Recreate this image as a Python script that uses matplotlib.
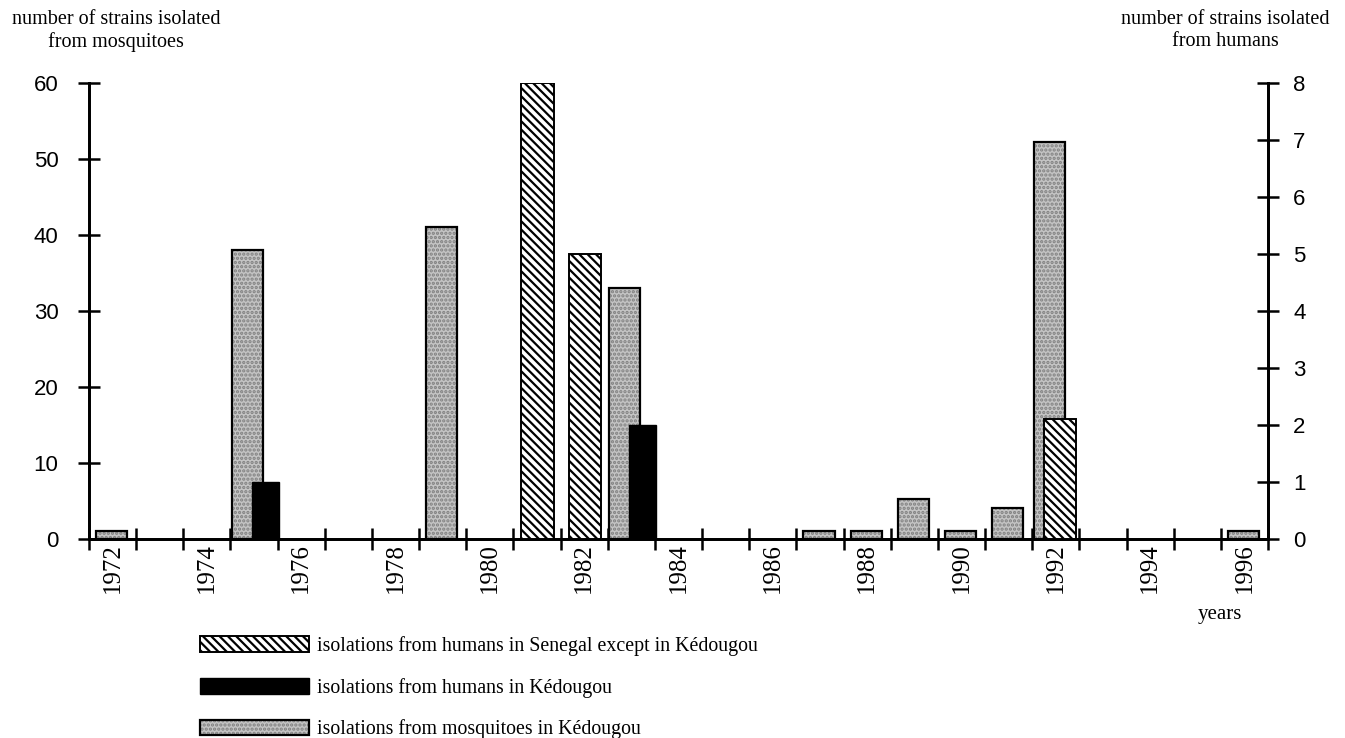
import matplotlib
matplotlib.use("Agg")
import matplotlib.pyplot as plt
from matplotlib.ticker import FixedLocator, NullFormatter

# ---- data ----
year_first = 1972
year_last = 1996
mosq_years = [1972, 1975, 1979, 1983, 1987, 1988, 1989, 1990, 1991, 1992, 1996]
mosq_values = [1, 38, 41, 33, 1, 1, 5.3, 1, 4.1, 52.2, 1]
kedo_years = [1975, 1983]
kedo_values = [1, 2]
sen_years = [1981, 1982, 1992]
sen_values = [8, 5, 2.1]
left_ticks = [0, 10, 20, 30, 40, 50, 60]
right_ticks = [0, 1, 2, 3, 4, 5, 6, 7, 8]
label_years = [1972, 1974, 1976, 1978, 1980, 1982, 1984, 1986, 1988, 1990, 1992, 1994, 1996]

label_sen = "isolations from humans in Senegal except in Kédougou"
label_kedo = "isolations from humans in Kédougou"
label_mosq = "isolations from mosquitoes in Kédougou"

SERIF = ["Liberation Serif", "DejaVu Serif"]
SANS = ["Liberation Sans", "DejaVu Sans"]

plt.rcParams["hatch.linewidth"] = 1.6
plt.rcParams["font.family"] = SERIF

fig = plt.figure(figsize=(13.45, 7.38), dpi=100)
L, R, B, T = 89 / 1345, 1268 / 1345, 1 - 539 / 738, 1 - 83 / 738
ax = fig.add_axes([L, B, R - L, T - B])
ax2 = ax.twinx()

human_years = set(kedo_years) | set(sen_years)
mosq_set = set(mosq_years)

# mosquitoes (left axis)
m_off = [0.03 if y in human_years else 0.15 for y in mosq_years]
m_x = [y + o for y, o in zip(mosq_years, m_off)]
bars_mf = ax.bar(m_x, mosq_values, width=0.66, align="edge", color="#c4c4c4",
                 edgecolor="#808080", hatch="....", linewidth=0, zorder=2)
bars_m = ax.bar(m_x, mosq_values, width=0.66, align="edge", facecolor="none",
                edgecolor="black", linewidth=1.6, zorder=3)

# humans (right axis)
k_x = [y + 0.45 for y in kedo_years]
bars_k = ax2.bar(k_x, kedo_values, width=0.58, align="edge", color="black",
                 edgecolor="black", linewidth=1.0, zorder=3)
s_x = [y + (0.25 if y in mosq_set else 0.17) for y in sen_years]
bars_s = ax2.bar(s_x, sen_values, width=0.68, align="edge", facecolor="white",
                 edgecolor="black", hatch="\\\\\\\\", linewidth=1.4, zorder=3)

# axes styling
for a in (ax, ax2):
    a.set_xlim(year_first, year_last + 1)
    a.spines["top"].set_visible(False)
    for s in ("left", "right", "bottom"):
        a.spines[s].set_linewidth(2.0)
ax.set_ylim(0, 60)
ax2.set_ylim(0, 8)
ax.set_yticks(left_ticks)
ax2.set_yticks(right_ticks)
ax.tick_params(axis="y", direction="inout", length=16, width=1.8, pad=14,
               labelsize=16, labelfontfamily=SANS)
ax2.tick_params(axis="y", direction="inout", length=16, width=1.8, pad=10,
                labelsize=16, labelfontfamily=SANS)

ax.xaxis.set_major_locator(FixedLocator(list(range(year_first, year_last + 2))))
ax.xaxis.set_major_formatter(NullFormatter())
ax.xaxis.set_minor_locator(FixedLocator([y + 0.5 for y in label_years]))
ax.set_xticklabels([str(y) for y in label_years], minor=True, rotation=90,
                   fontsize=18, fontfamily=SERIF)
ax.tick_params(axis="x", which="major", direction="inout", length=16, width=1.8)
ax.tick_params(axis="x", which="minor", length=0, pad=3)
ax2.tick_params(axis="x", which="both", bottom=False, labelbottom=False)

# titles
fig.text(116 / 1345, 1 - 10 / 738, "number of strains isolated\nfrom mosquitoes",
         ha="center", va="top", fontsize=14.5, linespacing=1.2)
fig.text(1225 / 1345, 1 - 10 / 738, "number of strains isolated\nfrom humans",
         ha="center", va="top", fontsize=14.5, linespacing=1.2)
fig.text(1220 / 1345, 1 - 614 / 738, "years", ha="center", va="center", fontsize=15)

# legend
fig.legend([bars_s, bars_k, (bars_mf, bars_m)], [label_sen, label_kedo, label_mosq],
           loc="upper left", bbox_to_anchor=(200 / 1345, 1 - 636 / 738),
           frameon=False, borderpad=0, borderaxespad=0, fontsize=14.3,
           handlelength=5.5, handleheight=0.85, handletextpad=0.4,
           labelspacing=1.1)

fig.savefig("out.png", dpi=100, facecolor="white")
